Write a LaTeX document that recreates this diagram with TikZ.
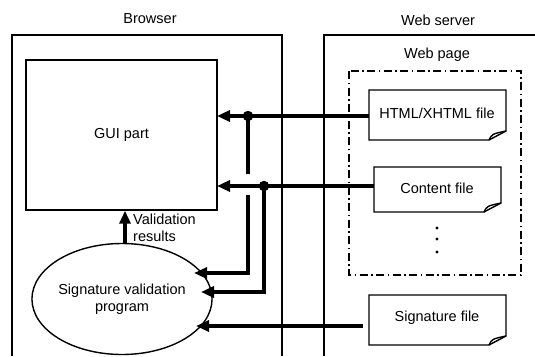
\documentclass[tikz,border=0pt]{standalone}
\usepackage{fontspec}
\setmainfont{Liberation Sans}
\usetikzlibrary{arrows.meta,shapes.geometric}
\begin{document}
\begin{tikzpicture}[x=1pt,y=-1pt,
  every node/.style={font=\fontsize{14.5}{17}\selectfont, inner sep=0pt},
  frame/.style={line width=1.4pt},
  flow/.style={line width=3.2pt, -{Triangle[length=13pt,width=11pt]}},
  wire/.style={line width=3.2pt},
  junction/.style={circle, fill=black, minimum size=10.5pt, inner sep=0pt}]
\useasboundingbox (0,0) rectangle (535,356);

% outer containers, open at the bottom
\draw[frame] (12,356) -- (12,35) -- (282,35) -- (282,356);
\draw[frame] (324,356) -- (324,35) -- (540,35);
\node (browser) at (150,19) {Browser};
\node (server) at (438,20) {Web server};
\node (page) at (437,55) {Web page};

% web page group
\draw[line width=1.4pt, dash pattern=on 8pt off 3.5pt on 1.5pt off 3.5pt] (349,71) rectangle (521,275);

% GUI part
\node[draw, frame, minimum width=191pt, minimum height=150pt] (gui) at (121.5,135) {GUI part};

% validation program
\node[draw, frame, ellipse, minimum width=152pt, minimum height=111pt, align=center] (val) at (122,299) {Signature validation\\program};

% document nodes with folded corner
\newcommand{\docshape}[5]{%
  \draw[frame] (#1,#2) -- (#3,#2) -- (#3,#4-9) -- (#3-17,#4) -- (#1,#4) -- cycle;
  \draw[frame] (#3-17,#4) .. controls (#3-14,#4-6) .. (#3,#4-9);
  \node (#5) at ({(#1+#3)/2},{(#2+#4)/2-3}) {};}
\docshape{369}{90}{506}{140}{htmlbox}
\node at (437,113) {HTML/XHTML file};
\coordinate (html) at (369,116);
\docshape{374}{167}{501}{212}{contentbox}
\node at (437,188) {Content file};
\coordinate (content) at (374,186);
\docshape{369}{295}{506}{345}{sigbox}
\node at (437,318) {Signature file};
\coordinate (sig) at (363,326);

% ellipsis inside the web page
\foreach \yy in {228,239,252} \fill (437,\yy) circle (1.7pt);

% data flows
\coordinate (guiA) at (217,116);
\coordinate (guiB) at (217,186);
\node[junction] (j1) at (248,116) {};
\node[junction] (j2) at (264,186) {};
\draw[flow] (html) -- (guiA);
\draw[flow] (content) -- (guiB);
\draw[wire] (j1.center) -- (248,174);
\draw[flow] (248,195) -- (248,273) -- (194,273);
\draw[flow] (j2.center) -- (264,292) -- (201,292);
\draw[flow] (sig) -- (196,326);

% validation results
\draw[flow] (125,244) -- (gui.south -| 125,0);
\node[align=left, anchor=north west] (res) at (133,214) {Validation\\results};
\end{tikzpicture}
\end{document}
